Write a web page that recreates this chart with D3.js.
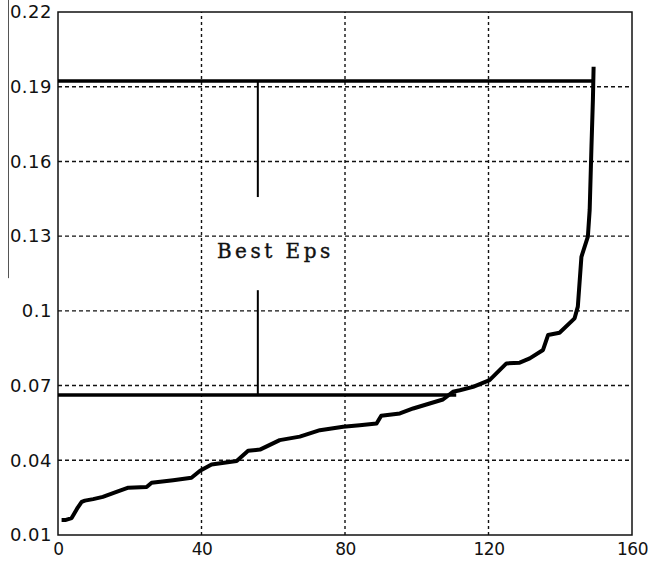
<!DOCTYPE html>
<html>
<head>
<meta charset="utf-8">
<script src="https://cdn.jsdelivr.net/npm/d3@7"></script>
<style>
  html, body { margin: 0; padding: 0; background: #fff; }
  svg { display: block; }
</style>
</head>
<body>
<svg width="648" height="562"></svg>
<script>
// sorted k-distance values
const kIndex = [1, 2, 3.8, 4.5, 5.5, 6.6, 7.5, 9.8, 12.5, 16.3, 19.6, 24.7, 26.1, 32.1, 37.2, 39.6, 42.8,
  49.8, 53, 56.3, 61.8, 67.4, 73, 79.5, 84.1, 88.8, 90.1, 95.3, 99, 103.6, 107.3, 110.1, 112,
  115.7, 120.3, 125, 128.7, 131.5, 135.2, 136.6, 139.8, 144, 144.9, 145.9, 147.7, 148.2, 148.7, 149.1, 149.3];
const kDist = [0.016, 0.016, 0.0168, 0.0185, 0.021, 0.0233, 0.0238, 0.0244, 0.0253, 0.0273, 0.029, 0.0293, 0.031, 0.032, 0.033, 0.0358, 0.0383,
  0.0397, 0.0438, 0.0443, 0.0481, 0.0495, 0.0521, 0.0535, 0.0541, 0.0548, 0.0579, 0.0588, 0.0608, 0.0628, 0.0644, 0.0675, 0.0681,
  0.0695, 0.0722, 0.0789, 0.0792, 0.0809, 0.0843, 0.0903, 0.0912, 0.097, 0.1017, 0.1217, 0.1298, 0.1405, 0.1659, 0.1847, 0.198];

const xTicks = [0, 40, 80, 120, 160];
const yTicks = [0.01, 0.04, 0.07, 0.1, 0.13, 0.16, 0.19, 0.22];

// "Best Eps" bracket
const epsUpper = 0.1923;
const epsLower = 0.0662;
const upperEnd = 149.3;
const lowerEnd = 111;
const markX = 55.7;
const markUpperEnd = 0.1457;
const markLowerStart = 0.1083;
const labelText = "Best Eps";
const labelPos = [44.3, 0.1213];

const svg = d3.select("svg");
const margin = { left: 58, right: 16, top: 12, bottom: 27 };
const width = +svg.attr("width");
const height = +svg.attr("height");

const x = d3.scaleLinear().domain([0, 160]).range([margin.left, width - margin.right]);
const y = d3.scaleLinear().domain([0.01, 0.22]).range([height - margin.bottom, margin.top]);

// stray scan line at far left
svg.append("line")
  .attr("x1", 8.5).attr("x2", 8.5)
  .attr("y1", 0).attr("y2", y(0.13) + 42)
  .attr("stroke", "#555").attr("stroke-width", 1);

// grid
svg.append("g")
  .selectAll("line")
  .data(yTicks.slice(1, -1))
  .join("line")
  .attr("x1", x(0)).attr("x2", x(160))
  .attr("y1", d => y(d)).attr("y2", d => y(d))
  .attr("stroke", "#111").attr("stroke-width", 1.4)
  .attr("stroke-dasharray", "4,3");

svg.append("g")
  .selectAll("line")
  .data(xTicks.slice(1, -1))
  .join("line")
  .attr("x1", d => x(d)).attr("x2", d => x(d))
  .attr("y1", y(0.01)).attr("y2", y(0.22))
  .attr("stroke", "#111").attr("stroke-width", 1.4)
  .attr("stroke-dasharray", "3,3");

// frame
svg.append("rect")
  .attr("x", x(0)).attr("y", y(0.22))
  .attr("width", x(160) - x(0)).attr("height", y(0.01) - y(0.22))
  .attr("fill", "none").attr("stroke", "#111").attr("stroke-width", 1.5);

// axes
const xAxis = d3.axisBottom(x).tickValues(xTicks).tickSize(0).tickPadding(8).tickFormat(d3.format("d"));
const yAxis = d3.axisLeft(y).tickValues(yTicks).tickSize(0).tickPadding(6).tickFormat(d => String(+d.toFixed(2)));

svg.append("g")
  .attr("transform", `translate(0, ${y(0.01)})`)
  .call(xAxis)
  .call(g => g.select(".domain").remove())
  .selectAll("text")
  .attr("font-family", "DejaVu Sans, sans-serif")
  .attr("font-size", 17)
  .attr("letter-spacing", -0.5)
  .attr("fill", "#111");

svg.append("g")
  .attr("transform", `translate(${x(0)}, 0)`)
  .call(yAxis)
  .call(g => g.select(".domain").remove())
  .selectAll("text")
  .attr("font-family", "DejaVu Sans, sans-serif")
  .attr("font-size", 18)
  .attr("letter-spacing", 0.5)
  .attr("fill", "#111");

// curve
const pts = kIndex.map((k, i) => [k, kDist[i]]);
const line = d3.line().x(d => x(d[0])).y(d => y(d[1]));

svg.append("path")
  .datum(pts)
  .attr("d", line)
  .attr("fill", "none")
  .attr("stroke", "#000")
  .attr("stroke-width", 4)
  .attr("stroke-linejoin", "round");

// eps bracket lines
svg.append("line")
  .attr("x1", x(0)).attr("x2", x(upperEnd))
  .attr("y1", y(epsUpper)).attr("y2", y(epsUpper))
  .attr("stroke", "#000").attr("stroke-width", 3.5);

svg.append("line")
  .attr("x1", x(0)).attr("x2", x(lowerEnd))
  .attr("y1", y(epsLower)).attr("y2", y(epsLower))
  .attr("stroke", "#000").attr("stroke-width", 3.5);

svg.append("line")
  .attr("x1", x(markX)).attr("x2", x(markX))
  .attr("y1", y(epsUpper)).attr("y2", y(markUpperEnd))
  .attr("stroke", "#000").attr("stroke-width", 2);

svg.append("line")
  .attr("x1", x(markX)).attr("x2", x(markX))
  .attr("y1", y(markLowerStart)).attr("y2", y(epsLower))
  .attr("stroke", "#000").attr("stroke-width", 2);

svg.append("text")
  .attr("x", x(labelPos[0]))
  .attr("y", y(labelPos[1]))
  .attr("font-family", "DejaVu Serif, serif")
  .attr("font-size", 20)
  .attr("letter-spacing", 3.5)
  .attr("stroke", "#111")
  .attr("stroke-width", 0.4)
  .attr("fill", "#111")
  .text(labelText);
</script>
</body>
</html>
